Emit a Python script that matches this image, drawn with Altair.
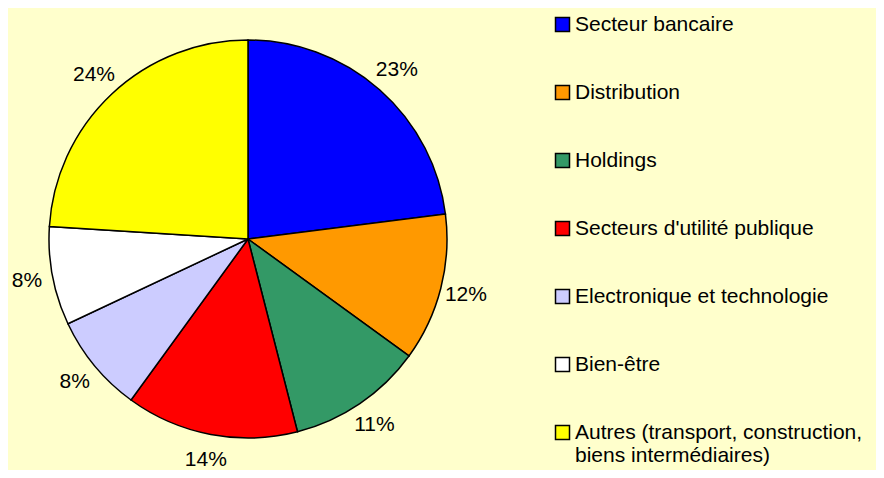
import altair as alt
import pandas as pd

categories = [
    "Secteur bancaire",
    "Distribution",
    "Holdings",
    "Secteurs d'utilité publique",
    "Electronique et technologie",
    "Bien-être",
    "Autres (transport, construction, biens intermédiaires)",
]
values = [23, 12, 11, 14, 8, 8, 24]
colors = ["#0000FF", "#FF9900", "#339966", "#FF0000", "#CCCCFF", "#FFFFFF", "#FFFF00"]

df = pd.DataFrame({"cat": categories, "val": values, "idx": list(range(len(values)))})
df["lbl"] = df["val"].astype(str) + "%"

FONT = "Liberation Sans"
CX, CY = 240, 231

base = alt.Chart(df).encode(
    theta=alt.Theta("val:Q", stack=True),
    order=alt.Order("idx:Q"),
)

pie = base.mark_arc(outerRadius=199, stroke="black", strokeWidth=1.5).encode(
    x=alt.value(CX),
    y=alt.value(CY),
    color=alt.Color(
        "cat:N",
        scale=alt.Scale(domain=categories, range=colors),
        sort=categories,
        legend=alt.Legend(
            title=None,
            orient="none",
            legendX=544,
            legendY=6,
            symbolType="square",
            symbolSize=196,
            symbolStrokeColor="black",
            symbolStrokeWidth=1.5,
            labelFont=FONT,
            labelFontSize=21,
            labelColor="black",
            labelLimit=400,
            labelOffset=2,
            rowPadding=46,
            labelExpr="datum.label == 'Autres (transport, construction, biens intermédiaires)' ? ['Autres (transport, construction,', 'biens intermédiaires)'] : datum.label",
        ),
    ),
)

labels = base.mark_text(radius=225, font=FONT, fontSize=21, color="black").encode(
    x=alt.value(CX),
    y=alt.value(CY),
    text="lbl:N",
)

chart = (
    alt.layer(pie, labels)
    .properties(width=868, height=462, padding=0, autosize=alt.AutoSizeParams(type="none"))
    .configure(background="#FFFFCC")
    .configure_view(stroke=None)
)

chart.save("out.html", embed_options={"renderer": "svg", "actions": False})
